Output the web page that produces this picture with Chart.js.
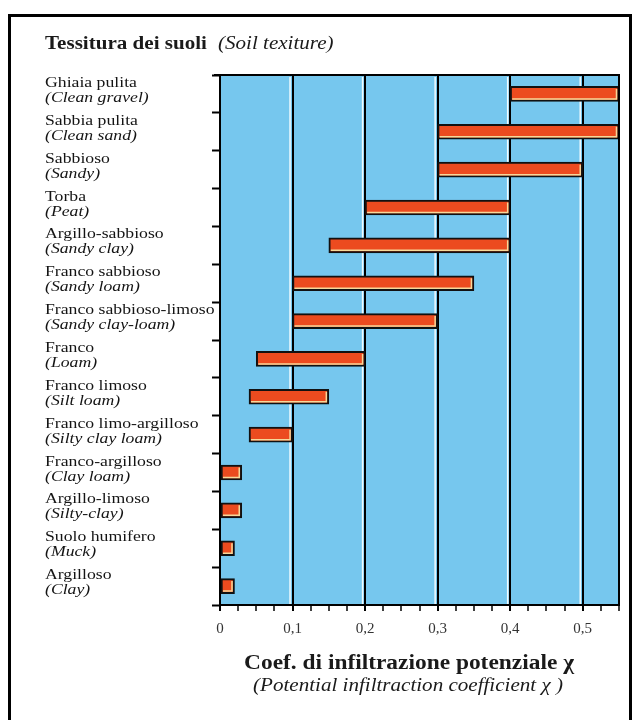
<!DOCTYPE html>
<html>
<head>
<meta charset="utf-8">
<script src="https://cdn.jsdelivr.net/npm/chart.js@4"></script>
<style>
  html, body { margin: 0; padding: 0; background: #fff; overflow: hidden; }
  body { width: 635px; height: 720px; position: relative; font-family: "Liberation Serif", "Times New Roman", serif; color: #1a1a1a; }
  #frame { position: absolute; left: 8px; top: 14px; width: 624px; height: 720px; border: 3px solid #000; border-bottom: none; box-sizing: border-box; }
  #wrap { position: absolute; left: 0; top: 0; width: 635px; height: 720px; }
  .txt { position: absolute; white-space: nowrap; transform-origin: 0 0; }
</style>
</head>
<body>
<div id="frame"></div>
<div id="wrap"><canvas id="soilChart"></canvas></div>
<div class="txt" style="left:45px; top:34px; font-size:18px; line-height:18px; font-weight:bold; transform:scaleX(1.17);">Tessitura dei suoli</div>
<div class="txt" style="left:218px; top:34px; font-size:18px; line-height:18px; font-style:italic; transform:scaleX(1.17);">(Soil texiture)</div>
<div class="txt" style="left:409px; top:652px; font-size:20px; line-height:20px; font-weight:bold; transform:scaleX(1.17) translateX(-50%);">Coef. di infiltrazione potenziale χ</div>
<div class="txt" style="left:408px; top:676px; font-size:18px; line-height:18px; font-style:italic; transform:scaleX(1.17) translateX(-50%);">(Potential infiltraction coefficient χ )</div>
<script>
// ----- Data -----
const soilIt = [
  "Ghiaia pulita", "Sabbia pulita", "Sabbioso", "Torba", "Argillo-sabbioso",
  "Franco sabbioso", "Franco sabbioso-limoso", "Franco", "Franco limoso",
  "Franco limo-argilloso", "Franco-argilloso", "Argillo-limoso",
  "Suolo humifero", "Argilloso"
];
const soilEn = [
  "(Clean gravel)", "(Clean sand)", "(Sandy)", "(Peat)", "(Sandy clay)",
  "(Sandy loam)", "(Sandy clay-loam)", "(Loam)", "(Silt loam)",
  "(Silty clay loam)", "(Clay loam)", "(Silty-clay)", "(Muck)", "(Clay)"
];
const coefMin = [0.40, 0.30, 0.30, 0.20, 0.15, 0.10, 0.10, 0.05, 0.04, 0.04, 0.00, 0.00, 0.00, 0.00];
const coefMax = [0.55, 0.55, 0.50, 0.40, 0.40, 0.35, 0.30, 0.20, 0.15, 0.10, 0.03, 0.03, 0.02, 0.02];
const xTickLabels = ["0", "0,1", "0,2", "0,3", "0,4", "0,5"];

const BLUE = "#76c7ee";
const ORANGE = "#ec4b1f";
const isMajor = (v) => Math.abs(v * 10 - Math.round(v * 10)) < 1e-6;

// ----- Plugins -----
const panelPlugin = {
  id: "panel",
  beforeDraw(chart) {
    const { ctx, chartArea: { left, right, top, bottom } } = chart;
    ctx.save();
    ctx.fillStyle = BLUE;
    ctx.fillRect(left, top, right - left, bottom - top);
    ctx.restore();
  },
  beforeDatasetsDraw(chart) {
    // thin white highlight on the left of each grid line
    const { ctx, chartArea: { top, bottom }, scales: { x } } = chart;
    ctx.save();
    ctx.strokeStyle = "rgba(255,255,255,0.9)";
    ctx.lineWidth = 1.5;
    [0.1, 0.2, 0.3, 0.4, 0.5].forEach((v) => {
      const px = x.getPixelForValue(v) - 2.5;
      ctx.beginPath();
      ctx.moveTo(px, top + 2);
      ctx.lineTo(px, bottom - 1);
      ctx.stroke();
    });
    ctx.restore();
  },
  afterDatasetsDraw(chart) {
    // cream edge inside the bottom / right border of each bar
    const { ctx } = chart;
    const bars = chart.getDatasetMeta(0).data;
    ctx.save();
    ctx.strokeStyle = "#f6d89a";
    ctx.lineWidth = 1.5;
    bars.forEach((b) => {
      const { x, base, y, height } = b.getProps(["x", "base", "y", "height"], true);
      const l = Math.min(x, base) + 2, r = Math.max(x, base) - 2.5;
      const bt = y + height / 2 - 2.5;
      ctx.beginPath();
      ctx.moveTo(l, bt);
      ctx.lineTo(r, bt);
      ctx.lineTo(r, y - height / 2 + 2.5);
      ctx.stroke();
    });
    ctx.restore();
  },
  afterDraw(chart) {
    const { ctx, chartArea: { left, right, top, bottom }, scales: { y } } = chart;
    ctx.save();
    ctx.strokeStyle = "#000";
    ctx.lineWidth = 2;
    ctx.beginPath();
    ctx.moveTo(left - 6, top);
    ctx.lineTo(right, top);
    ctx.lineTo(right, bottom);
    ctx.stroke();
    // two-line category labels
    ctx.fillStyle = "#141414";
    ctx.textBaseline = "alphabetic";
    soilIt.forEach((lab, i) => {
      const cy = y.getPixelForValue(i);
      ctx.save();
      ctx.translate(45, cy - 7);
      ctx.scale(1.18, 1);
      ctx.font = '15px "Liberation Serif"';
      ctx.fillText(lab, 0, 0);
      ctx.restore();
      ctx.save();
      ctx.translate(45, cy + 8);
      ctx.scale(1.18, 1);
      ctx.font = 'italic 15px "Liberation Serif"';
      ctx.fillText(soilEn[i], 0, 0);
      ctx.restore();
    });
    ctx.restore();
  }
};

// ----- Chart -----
const chart = new Chart(document.getElementById("soilChart"), {
  type: "bar",
  data: {
    labels: soilIt,
    datasets: [{
      data: coefMin.map((v, i) => [v, coefMax[i]]),
      backgroundColor: ORANGE,
      borderColor: "#111",
      borderWidth: 2,
      borderSkipped: false,
      barThickness: 15
    }]
  },
  options: {
    indexAxis: "y",
    animation: false,
    responsive: true,
    maintainAspectRatio: false,
    layout: { padding: { top: 75, right: 16, left: 0, bottom: 0 } },
    plugins: { legend: { display: false }, tooltip: { enabled: false } },
    scales: {
      x: {
        type: "linear",
        min: 0,
        max: 0.55,
        afterFit: (s) => { s.height = 115; },
        ticks: {
          stepSize: 0.025,
          autoSkip: false,
          maxRotation: 0,
          padding: 9,
          color: "#333",
          font: { family: "Liberation Serif", size: 15 },
          callback: (v) => isMajor(v) ? xTickLabels[Math.round(v * 10)] : ""
        },
        border: { color: "#000", width: 2 },
        grid: {
          color: (c) => (c.tick && isMajor(c.tick.value) && c.tick.value > 0) ? "#000" : "rgba(0,0,0,0)",
          lineWidth: 2,
          tickColor: "#000",
          tickWidth: (c) => (c.tick && isMajor(c.tick.value)) ? 2 : 1.5,
          tickLength: 6
        }
      },
      y: {
        afterFit: (s) => { s.width = 220; },
        ticks: { display: false },
        border: { color: "#000", width: 2 },
        grid: {
          offset: true,
          drawOnChartArea: false,
          tickColor: "#000",
          tickWidth: 2,
          tickLength: 8
        }
      }
    }
  },
  plugins: [panelPlugin]
});
</script>
</body>
</html>
